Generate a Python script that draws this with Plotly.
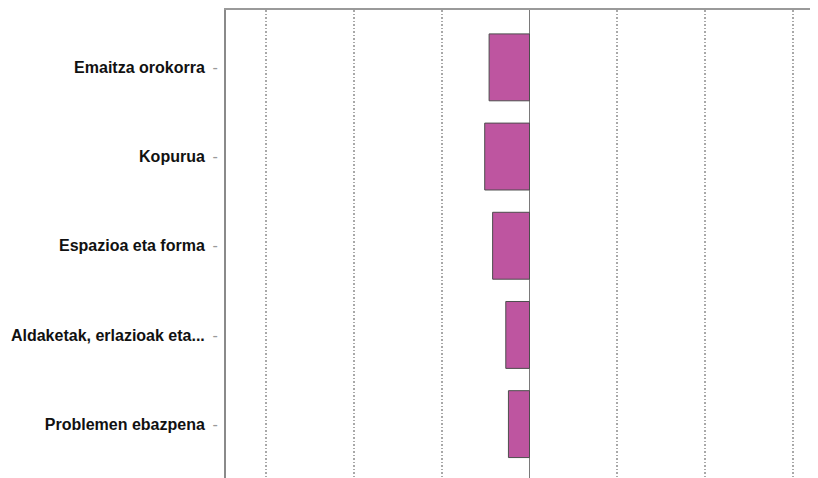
import plotly.graph_objects as go

categories = ["Emaitza orokorra", "Kopurua", "Espazioa eta forma",
              "Aldaketak, erlazioak eta...", "Problemen ebazpena"]
values = [-4.6, -5.1, -4.2, -2.7, -2.4]

ticktext = [f"{c}\u00a0\u2009<span style='color:#9a9a9a;font-weight:normal'>-</span>" for c in categories]

fig = go.Figure()
fig.add_trace(go.Bar(
    y=categories, x=values, orientation="h",
    marker=dict(color="#BE55A0", line=dict(color="#4d4d4d", width=1)),
    showlegend=False,
))

fig.update_layout(
    width=818, height=478,
    margin=dict(l=218, r=8, t=2, b=8),
    paper_bgcolor="white", plot_bgcolor="white",
    bargap=0.25,
    font=dict(family="Liberation Sans, Arial, sans-serif", color="black"),
)
fig.update_xaxes(
    range=[-34.55, 32.84], side="top", showticklabels=False, ticks="",
    dtick=10, tick0=0,
    showgrid=True, gridcolor="#a8a8a8", griddash="1.5px,2px", gridwidth=1.5,
    zeroline=True, zerolinecolor="#7a7a7a", zerolinewidth=1.3,
    showline=True, linecolor="#9a9a9a", linewidth=2,
)
fig.update_yaxes(
    type="category", categoryorder="array", categoryarray=categories,
    range=[4.604, -0.643],
    tickmode="array", tickvals=categories, ticktext=ticktext,
    tickfont=dict(size=16, weight="bold", color="#111"),
    ticks="", ticklabelstandoff=3,
    showgrid=False, zeroline=False,
    showline=True, linecolor="#8a8a8a", linewidth=2,
)

fig.write_html("out.html")
